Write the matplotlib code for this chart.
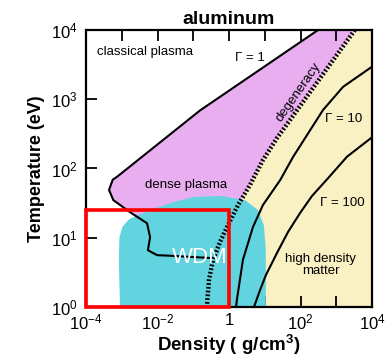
import matplotlib
matplotlib.use("Agg")
import matplotlib.pyplot as plt
from matplotlib.patches import Rectangle

plt.rcParams["font.family"] = ["Liberation Sans", "DejaVu Sans"]
plt.rcParams["mathtext.fontset"] = "custom"
plt.rcParams["mathtext.rm"] = "Liberation Sans"
plt.rcParams["mathtext.bf"] = "Liberation Sans:bold"
plt.rcParams["mathtext.default"] = "regular"

# density (g/cm3) and temperature (eV)
degeneracy_rho = [3300, 22, 8.9, 3.86, 1.79, 0.94, 0.56, 0.356, 0.275, 0.24]
degeneracy_T = [1e4, 275, 132, 57.8, 29.7, 15.3, 8.7, 4.77, 2.45, 1.0]

gamma1_rho = [310, 0.155, 7.4e-4, 5.6e-4, 4.4e-4, 5.8e-4, 1.7e-3, 5.1e-3,
              6.2e-3, 5.4e-3, 9.8e-3, 0.022, 0.30]
gamma1_T = [1e4, 690, 76, 69, 49, 35, 23.4, 16.2, 10.2, 6.6, 5.6, 5.5, 5.1]

gamma10_rho = [1e4, 1550, 427, 151, 62, 27, 8.9, 4.68, 2.45, 1.66, 1.58]
gamma10_T = [2950, 1510, 700, 302, 147, 68, 29.7, 14.3, 4.8, 1.26, 1.0]

gamma100_rho = [1e4, 2000, 589, 209, 98, 44.7, 21.9, 10.8, 7.4, 5.0]
gamma100_T = [282, 148, 72.4, 40, 22.9, 12.1, 6.0, 2.9, 1.76, 1.0]

wdm_rho = [8.9e-4, 8.3e-4, 8.6e-4, 1.05e-3, 1.6e-3, 4.5e-3, 0.022, 0.11,
           0.63, 2.8, 6.5, 9.5, 10.7, 10.7]
wdm_T = [1.0, 4.8, 10.2, 14.5, 18.5, 23.4, 31.6, 39, 40, 35, 25, 15, 6.6, 1.0]

xticks = [1e-4, 1e-3, 1e-2, 1e-1, 1, 1e1, 1e2, 1e3, 1e4]
xticklabels = ["$10^{-4}$", "", "$10^{-2}$", "", "1", "", "$10^{2}$", "", "$10^{4}$"]
yticks = [1, 1e1, 1e2, 1e3, 1e4]
yticklabels = ["$10^{0}$", "$10^{1}$", "$10^{2}$", "$10^{3}$", "$10^{4}$"]

fig = plt.figure(figsize=(3.89, 3.58), dpi=100)
ax = fig.add_axes([0.2211, 0.1425, 0.7352, 0.7737])
ax.set_xscale("log")
ax.set_yscale("log")
ax.set_xlim(1e-4, 1e4)
ax.set_ylim(1, 1e4)

# high density region (right of degeneracy)
ax.fill(degeneracy_rho + [1e4, 1e4], degeneracy_T + [1, 1e4],
        color="#f9f0c4", lw=0, zorder=1)
# dense plasma region: below gamma=1, left of degeneracy
upper = [(r, t) for r, t in zip(degeneracy_rho, degeneracy_T) if t >= 4.5][::-1]
pink_rho = gamma1_rho + [p[0] for p in upper]
pink_T = gamma1_T + [p[1] for p in upper]
ax.fill(pink_rho, pink_T, color="#e8aef0", lw=0, zorder=1)
# warm dense matter
ax.fill(wdm_rho, wdm_T, color="#62d4e0", lw=0, zorder=2)

ax.plot(gamma1_rho, gamma1_T, color="black", lw=1.5, zorder=3)
ax.plot(gamma10_rho, gamma10_T, color="black", lw=1.5, zorder=3)
ax.plot(gamma100_rho, gamma100_T, color="black", lw=1.5, zorder=3)
ax.plot(degeneracy_rho, degeneracy_T, color="black", lw=3.2,
        dashes=(0.4, 0.45), zorder=3)

fs = 9.5
ax.text(4.5e-3, 4800, "classical plasma", fontsize=fs, ha="center", va="center")
ax.text(3.9, 4000, "Γ = 1", fontsize=fs, ha="center", va="center")
ax.text(85, 1260, "degeneracy", fontsize=fs, ha="center", va="center",
        rotation=55, rotation_mode="anchor")
ax.text(1660, 520, "Γ = 10", fontsize=fs, ha="center", va="center")
ax.text(0.063, 57, "dense plasma", fontsize=fs, ha="center", va="center")
ax.text(1450, 32, "Γ = 100", fontsize=fs, ha="center", va="center")
ax.text(0.148, 5.1, "WDM", fontsize=16, color="white", ha="center",
        va="center", zorder=4)
ax.text(370, 4.1, "high density\nmatter", fontsize=fs, ha="center",
        va="center", linespacing=1.0)

ax.add_patch(Rectangle((1e-4, 1), 1 - 1e-4, 25 - 1, fill=False,
                       edgecolor="#ff0000", lw=2.6, clip_on=False, zorder=6))

ax.set_xticks(xticks)
ax.set_xticklabels(xticklabels)
ax.set_yticks(yticks)
ax.set_yticklabels(yticklabels)
ax.minorticks_off()
ax.tick_params(axis="x", direction="in", top=True, length=8, width=1.3,
               labelsize=12, pad=4)
ax.tick_params(axis="y", direction="in", right=False, length=8, width=1.3,
               labelsize=12, pad=6)
for s in ax.spines.values():
    s.set_linewidth(1.6)
    s.set_zorder(5)

ax.set_title("aluminum", fontsize=14, fontweight="bold", pad=4)
ax.set_xlabel("Density ( g/cm$^3$)", fontsize=13.5, fontweight="bold", labelpad=0)
ax.set_ylabel("Temperature (eV)", fontsize=13, fontweight="bold", labelpad=4)

fig.savefig("out.png", dpi=100)
